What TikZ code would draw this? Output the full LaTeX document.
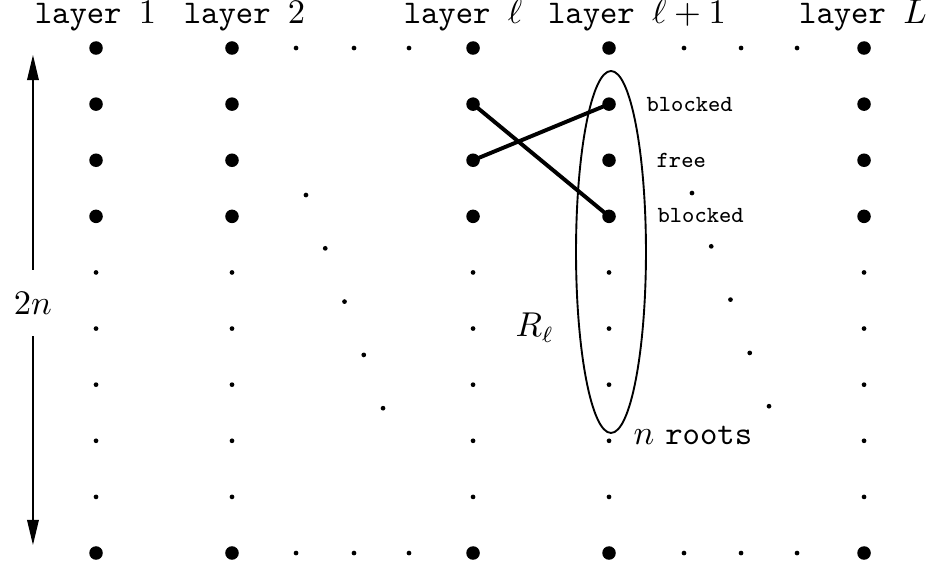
\documentclass[tikz,border=0pt]{standalone}
\usetikzlibrary{arrows.meta,shapes.geometric}
\tikzset{
  bigdot/.style={circle,fill=black,inner sep=0pt,minimum size=4.3pt},
  smalldot/.style={circle,fill=black,inner sep=0pt,minimum size=1.5pt},
  lbl/.style={font=\fontsize{10.5}{12.6}\selectfont,inner sep=0pt},
  head/.style={lbl,font=\fontsize{10.5}{12.6}\selectfont\ttfamily,anchor=base},
  note/.style={font=\fontsize{7.35}{9}\selectfont\ttfamily,anchor=west,inner sep=0pt},
  edge/.style={line width=1.25pt},
  ar/.style={-{Triangle[length=2.8mm,width=1.3mm]}},
}
\begin{document}
\begin{tikzpicture}[x=1cm,y=1cm]
\useasboundingbox (0,0) rectangle (10.36,-6.363);
% layer headings
\node[head] (h1) at (1.066,-0.257) {layer $1$};
\node[head] (h2) at (2.730,-0.257) {layer $2$};
\node[head] (hl) at (5.169,-0.257) {layer $\ell$};
\node[head] (hm) at (7.111,-0.257) {layer $\ell+1$};
\node[head] (hL) at (9.634,-0.257) {layer $L$};
% the columns of vertices
\foreach \c/\x in {1/1.072,2/2.590,3/5.281,4/6.799,5/9.646}{
  \foreach \r in {0,1,2,3,9}
    \node[bigdot] (d-\c-\r) at ({\x},{-0.536-0.6264*\r}) {};
  \foreach \r in {4,...,8}
    \node[smalldot] (d-\c-\r) at ({\x},{-0.536-0.6264*\r}) {};
}
% dots between the layers
\foreach \i/\x in {1/3.305,2/3.952,3/4.566,4/7.636,5/8.273,6/8.898}{
  \node[smalldot] (t-\i) at (\x,-0.536) {};
  \node[smalldot] (b-\i) at (\x,-6.174) {};
}
\foreach \i in {0,...,4}{
  \node[smalldot] (p-\i) at ({3.416+0.215*\i},{-2.177-0.595*\i}) {};
  \node[smalldot] (q-\i) at ({7.725+0.215*\i},{-2.155-0.595*\i}) {};
}
% the roots of layer l+1
\node[draw,semithick,ellipse,inner sep=0pt,minimum width=0.781cm,minimum height=4.041cm] (ring) at (6.821,-2.813) {};
\draw[edge] (d-3-1.center) -- (d-4-3.center);
\draw[edge] (d-3-2.center) -- (d-4-1.center);
\node[note] (bl1) at (7.212,-1.161) {blocked};
\node[note] (fr) at (7.324,-1.786) {free};
\node[note] (bl2) at (7.335,-2.411) {blocked};
\node[lbl,anchor=base west] (roots) at (7.067,-4.957) {$n$ \texttt{roots}};
\node[lbl,anchor=base west] (rl) at (5.749,-3.762) {$R_\ell$};
% height of a layer
\node[lbl,inner sep=6.8pt] (twon) at (0.368,-3.383) {$2n$};
\coordinate (up) at (0.368,-0.614);
\coordinate (down) at (0.368,-6.084);
\draw[ar] (twon) -- (up);
\draw[ar] (twon) -- (down);
\end{tikzpicture}
\end{document}
